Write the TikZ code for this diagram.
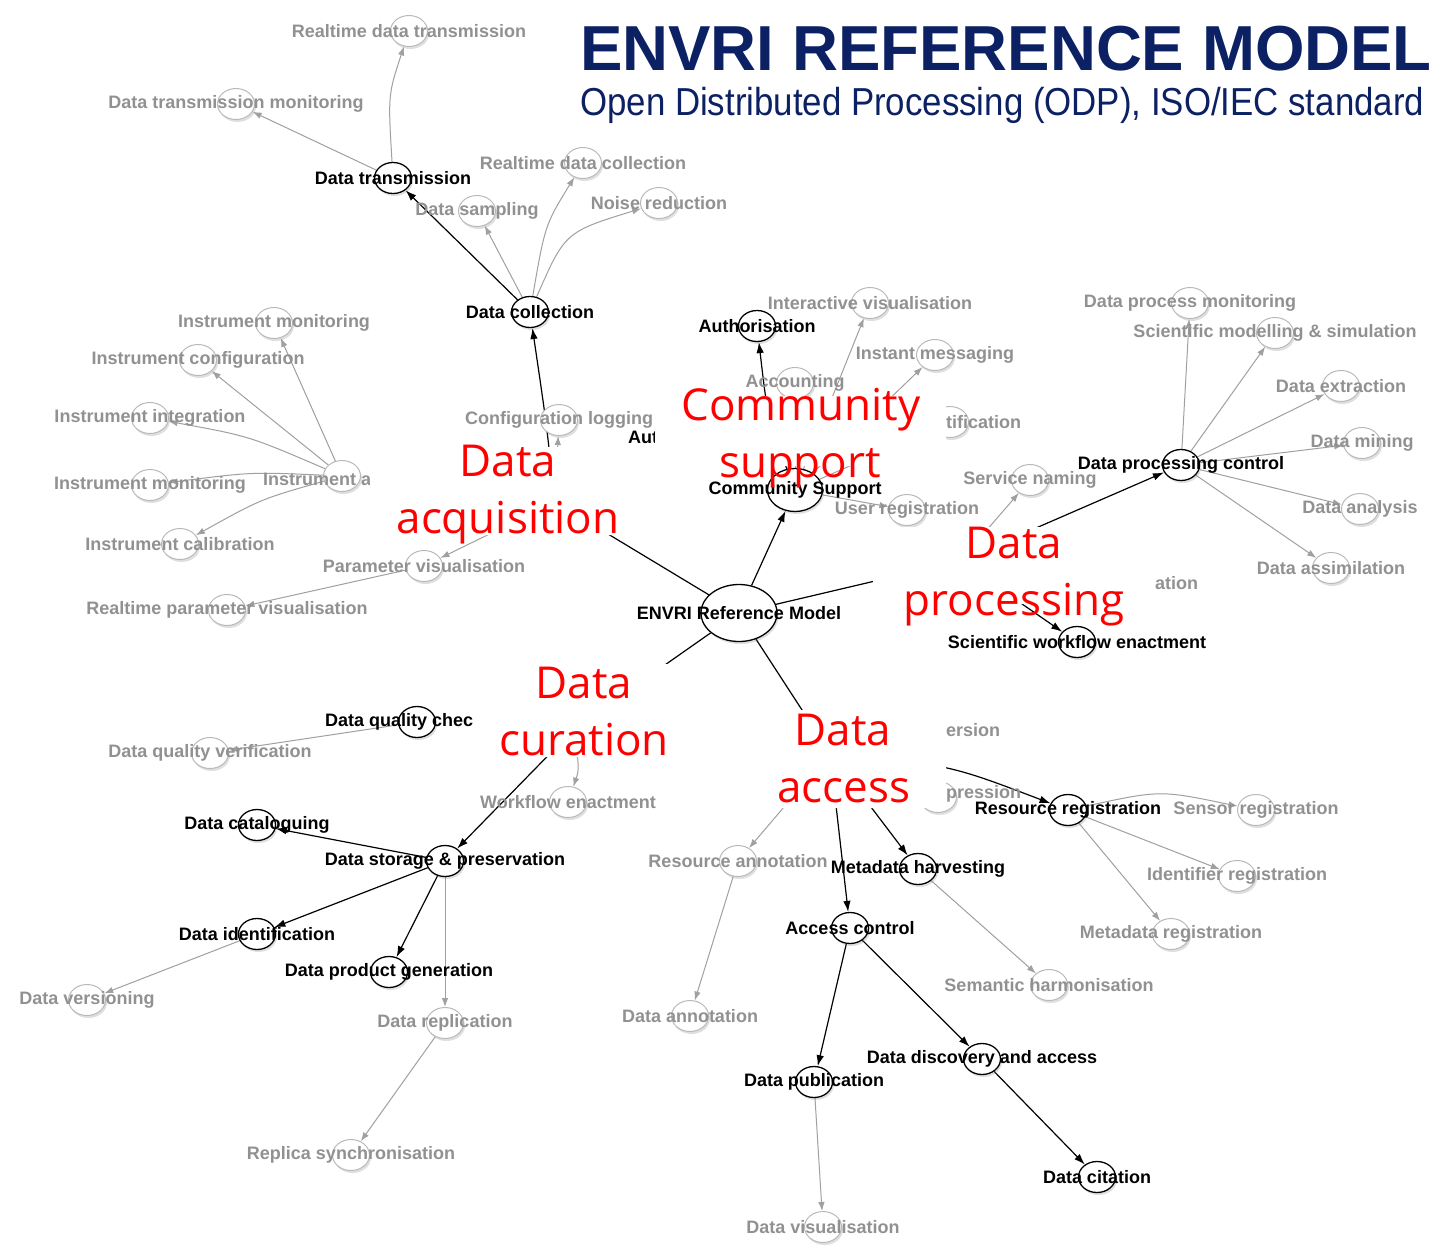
\documentclass[tikz,border=0pt]{standalone}
\usepackage{graphicx}
\usepackage{fontspec}
\setmainfont{Liberation Sans}
\newfontfamily\redf{Open Sans}
\usetikzlibrary{shapes.geometric,shadows,arrows.meta}
\definecolor{navy}{RGB}{12,33,99}
\definecolor{glab}{RGB}{145,145,145}
\definecolor{gcirc}{RGB}{185,185,185}
\definecolor{gedge}{RGB}{160,160,160}
\definecolor{redl}{RGB}{255,0,0}
\pgfdeclarelayer{bg}
\pgfsetlayers{bg,main}
\newcommand\labf{\fontsize{18}{20}\selectfont\bfseries}
\tikzset{
 gn/.style={ellipse, draw=gcirc, line width=1pt, fill=white, minimum width=37pt, minimum height=31pt, inner sep=0pt, drop shadow={opacity=0.25, shadow xshift=1.5pt, shadow yshift=-2.5pt}},
 bn/.style={gn, draw=black, line width=1.3pt},
 gl/.style={font=\labf, text=glab, inner sep=0pt},
 bl/.style={font=\labf, text=black, inner sep=0pt},
 ge/.style={draw=gedge, line width=1pt, -{Latex[length=9pt,width=6.5pt]}},
 be/.style={draw=black, line width=1.2pt, -{Latex[length=11pt,width=7.5pt]}},
 bline/.style={draw=black, line width=1.2pt},
 rl/.style={font={\redf\fontsize{44}{57}\selectfont}, text=redl, inner sep=0pt, anchor=base},
 wbox/.style={fill=white, rounded corners=4pt},
}
\begin{document}
\begin{tikzpicture}[x=1pt,y=-1pt]
\begin{pgfonlayer}{bg}
\fill[white] (0,0) rectangle (1434,1254);
\end{pgfonlayer}
\useasboundingbox (0,0) rectangle (1434,1254);

% hidden hubs
\coordinate (hacq) at (555,502);
\coordinate (hcur) at (575,728);
\coordinate (hacc) at (830,753);
\coordinate (hdp) at (960,561);

% centre
\node[bn, minimum width=76pt, minimum height=57pt] (envri) at (739,613) {};
\node[bn, minimum width=55pt, minimum height=43pt] (cs) at (795,490) {};

% acquisition
\node[gn] (rtdt) at (409,31) {};
\node[gn] (dtmon) at (236,104) {};
\node[bn] (dtrans) at (393,178) {};
\node[gn] (dsamp) at (477,211) {};
\node[gn] (rtdc) at (583,163) {};
\node[gn] (noise) at (659,203) {};
\node[bn] (dcoll) at (530,312) {};
\node[gn] (imon1) at (274,323) {};
\node[gn] (iconf) at (198,360) {};
\node[gn] (iint) at (150,418) {};
\node[gn] (imon2) at (150,485) {};
\node[gn] (ical) at (180,544) {};
\node[gn] (iacc) at (342,476) {};
\node[gn] (pvis) at (424,566) {};
\node[gn] (rpvis) at (227,610) {};
\node[gn] (clog) at (559,420) {};

% community
\node[bn] (auth) at (757,326) {};
\node[gn] (ivis) at (870,303) {};
\node[gn] (imsg) at (935,355) {};
\node[gn] (acct) at (795,383) {};
\node[gn] (notif) at (950,422) {};
\node[gn] (ureg) at (907,510) {};

% processing
\node[gn] (dpmon) at (1190,303) {};
\node[gn] (sms) at (1275,333) {};
\node[gn] (dext) at (1341,386) {};
\node[gn] (dmin) at (1362,443) {};
\node[bn] (dpc) at (1181,465) {};
\node[gn] (dana) at (1360,509) {};
\node[gn] (dass) at (1331,568) {};
\node[gn] (snam) at (1030,480) {};
\node[bn] (swe) at (1077,642) {};

% curation
\node[bn] (dqc) at (417,722) {};
\node[gn] (dqv) at (210,753) {};
\node[gn] (wfe) at (568,802) {};
\node[bn] (dcat) at (257,825) {};
\node[bn] (dsp) at (445,861) {};
\node[bn] (did) at (257,934) {};
\node[bn] (dpg) at (389,972) {};
\node[gn] (drep) at (445,1023) {};
\node[gn] (dver) at (87,1000) {};
\node[gn] (rsync) at (351,1155) {};

% access
\node[bn] (rreg) at (1068,810) {};
\node[gn] (sreg) at (1256,810) {};
\node[gn] (idreg) at (1237,876) {};
\node[gn] (mreg) at (1171,934) {};
\node[gn] (rann) at (738,861) {};
\node[bn] (mharv) at (918,869) {};
\node[bn] (actl) at (850,928) {};
\node[gn] (semh) at (1049,985) {};
\node[bn] (dda) at (982,1059) {};
\node[bn] (dpub) at (814,1082) {};
\node[bn] (dcit) at (1097,1177) {};
\node[gn] (dvis) at (823,1227) {};
\node[gn] (dann) at (690,1016) {};
\node[gn] (compr) at (938,797) {};

\begin{pgfonlayer}{bg}
\draw[bline] (envri) -- (hacq);
\draw[be] (envri) -- (cs);
\draw[bline] (envri) -- (hdp);
\draw[bline] (envri) -- (hcur);
\draw[bline] (envri) -- (hacc);
% acquisition
\draw[be] (hacq) .. controls (546,420) .. (dcoll);
\draw[ge] (hacq) -- (pvis);
\draw[ge] (hacq) -- (clog);
\draw[ge] (pvis) -- (rpvis);
\draw[ge] (iacc) -- (imon1);
\draw[ge] (iacc) -- (iconf);
\draw[ge] (iacc) .. controls (249,436) .. (iint);
\draw[ge] (iacc) .. controls (251,472) .. (imon2);
\draw[ge] (iacc) .. controls (261,499) .. (ical);
\draw[be] (dcoll) -- (dtrans);
\draw[ge] (dcoll) -- (dsamp);
\draw[ge] (dcoll) .. controls (545,225) .. (rtdc);
\draw[ge] (dcoll) .. controls (565,232) .. (noise);
\draw[ge] (dtrans) -- (dtmon);
\draw[ge] (dtrans) .. controls (388,95) .. (rtdt);
% community
\draw[be] (cs) .. controls (768,420) .. (auth);
\draw[ge] (cs) -- (ivis);
\draw[ge] (cs) -- (imsg);
\draw[ge] (cs) -- (ureg);
\draw[ge] (cs) -- (acct);
\draw[ge] (cs) -- (notif);
% processing
\draw[be] (hdp) -- (dpc);
\draw[ge] (hdp) -- (snam);
\draw[be] (hdp) -- (swe);
\foreach \t in {dpmon,sms,dext,dmin,dana,dass} \draw[ge] (dpc) -- (\t);
% curation
\draw[be] (hcur) -- (dsp);
\draw[ge] (hcur) .. controls (579,770) .. (wfe);
\draw[be] (dsp) -- (dcat);
\draw[be] (dsp) -- (did);
\draw[be] (dsp) -- (dpg);
\draw[ge] (dsp) -- (drep);
\draw[ge] (did) -- (dver);
\draw[ge] (drep) -- (rsync);
\draw[ge] (dqc) -- (dqv);
% access
\draw[be] (hacc) .. controls (950,765) .. (rreg);
\draw[be] (hacc) -- (mharv);
\draw[be] (hacc) -- (actl);
\draw[ge] (hacc) -- (rann);
\draw[ge] (rann) -- (dann);
\draw[ge] (mharv) -- (semh);
\draw[ge] (rreg) .. controls (1160,790) .. (sreg);
\draw[ge] (rreg) -- (idreg);
\draw[ge] (rreg) -- (mreg);
\draw[be] (actl) -- (dpub);
\draw[be] (actl) -- (dda);
\draw[be] (dda) -- (dcit);
\draw[ge] (dpub) -- (dvis);
\end{pgfonlayer}

% labels
\node[bl] (envri-t) at (envri) {ENVRI Reference Model};
\node[bl] (cs-t) at (cs) {Community Support};
\node[gl] (rtdt-t) at (rtdt) {Realtime data transmission};
\node[gl] (dtmon-t) at (dtmon) {Data transmission monitoring};
\node[bl] (dtrans-t) at (dtrans) {Data transmission};
\node[gl] (dsamp-t) at (dsamp) {Data sampling};
\node[gl] (rtdc-t) at (rtdc) {Realtime data collection};
\node[gl] (noise-t) at (noise) {Noise reduction};
\node[bl] (dcoll-t) at (dcoll) {Data collection};
\node[gl] (imon1-t) at (imon1) {Instrument monitoring};
\node[gl] (iconf-t) at (iconf) {Instrument configuration};
\node[gl] (iint-t) at (iint) {Instrument integration};
\node[gl] (imon2-t) at (imon2) {Instrument monitoring};
\node[gl] (ical-t) at (ical) {Instrument calibration};
\node[gl, anchor=west] (iacc-t) at (263,479) {Instrument a};
\node[gl] (pvis-t) at (pvis) {Parameter visualisation};
\node[gl] (rpvis-t) at (rpvis) {Realtime parameter visualisation};
\node[gl] (clog-t) at (clog) {Configuration logging};
\node[bl, anchor=west] (aut-t) at (628,437) {Aut};
\node[bl] (auth-t) at (auth) {Authorisation};
\node[gl] (ivis-t) at (ivis) {Interactive visualisation};
\node[gl] (imsg-t) at (imsg) {Instant messaging};
\node[gl] (acct-t) at (acct) {Accounting};
\node[gl, anchor=west] (notif-t) at (946,422) {tification};
\node[gl] (ureg-t) at (ureg) {User registration};
\node[gl] (dpmon-t) at (dpmon) {Data process monitoring};
\node[gl] (sms-t) at (sms) {Scientific modelling \& simulation};
\node[gl] (dext-t) at (dext) {Data extraction};
\node[gl] (dmin-t) at (dmin) {Data mining};
\node[bl] (dpc-t) at (dpc) {Data processing control};
\node[gl] (dana-t) at (dana) {Data analysis};
\node[gl] (dass-t) at (dass) {Data assimilation};
\node[gl] (snam-t) at (snam) {Service naming};
\node[gl, anchor=west] (ation-t) at (1155,583) {ation};
\node[bl] (swe-t) at (swe) {Scientific workflow enactment};
\node[bl, anchor=west] (dqc-t) at (325,722) {Data quality chec};
\node[gl] (dqv-t) at (dqv) {Data quality verification};
\node[gl] (wfe-t) at (wfe) {Workflow enactment};
\node[bl] (dcat-t) at (dcat) {Data cataloguing};
\node[bl] (dsp-t) at (dsp) {Data storage \& preservation};
\node[bl] (did-t) at (did) {Data identification};
\node[bl] (dpg-t) at (dpg) {Data product generation};
\node[gl] (drep-t) at (drep) {Data replication};
\node[gl] (dver-t) at (dver) {Data versioning};
\node[gl] (rsync-t) at (rsync) {Replica synchronisation};
\node[gl, anchor=west] (vers-t) at (946,730) {ersion};
\node[gl, anchor=west] (compr-t) at (946,794) {pression};
\node[bl] (rreg-t) at (rreg) {Resource registration};
\node[gl] (sreg-t) at (sreg) {Sensor registration};
\node[gl] (idreg-t) at (idreg) {Identifier registration};
\node[gl] (mreg-t) at (mreg) {Metadata registration};
\node[gl] (rann-t) at (rann) {Resource annotation};
\node[bl] (mharv-t) at (mharv) {Metadata harvesting};
\node[bl] (actl-t) at (actl) {Access control};
\node[gl] (semh-t) at (semh) {Semantic harmonisation};
\node[bl] (dda-t) at (dda) {Data discovery and access};
\node[bl] (dpub-t) at (dpub) {Data publication};
\node[bl] (dcit-t) at (dcit) {Data citation};
\node[gl] (dvis-t) at (dvis) {Data visualisation};
\node[gl] (dann-t) at (dann) {Data annotation};

% white patches behind the red titles
\fill[wbox] (370,447) rectangle (655,535);
\fill[wbox] (655,396) rectangle (946,466);
\fill[wbox] (873,527) rectangle (1155,604);
\fill[wbox] (473,664) rectangle (700,757);
\fill[wbox] (770,710) rectangle (946,808);

% red titles
\node[rl] (ra1) at (508,476) {Data};
\node[rl] (ra2) at (508,533) {acquisition};
\node[rl] (rc1) at (801,420) {Community};
\node[rl] (rc2) at (800,477) {support};
\node[rl] (rp1) at (1014,558) {Data};
\node[rl] (rp2) at (1014,615) {processing};
\node[rl] (ru1) at (584,698) {Data};
\node[rl] (ru2) at (584,755) {curation};
\node[rl] (rs1) at (843,745) {Data};
\node[rl] (rs2) at (844,802) {access};

% heading
\node[anchor=base west, inner sep=0pt, text=navy, font={\fontsize{63.6}{64}\selectfont\bfseries}] (title) at (580,70) {ENVRI REFERENCE MODEL};
\node[anchor=base west, inner sep=0pt, text=navy] (subtitle) at (580,115) {\scalebox{0.893}[1]{\fontsize{39}{40}\selectfont Open Distributed Processing (ODP), ISO/IEC standard}};
\end{tikzpicture}
\end{document}
